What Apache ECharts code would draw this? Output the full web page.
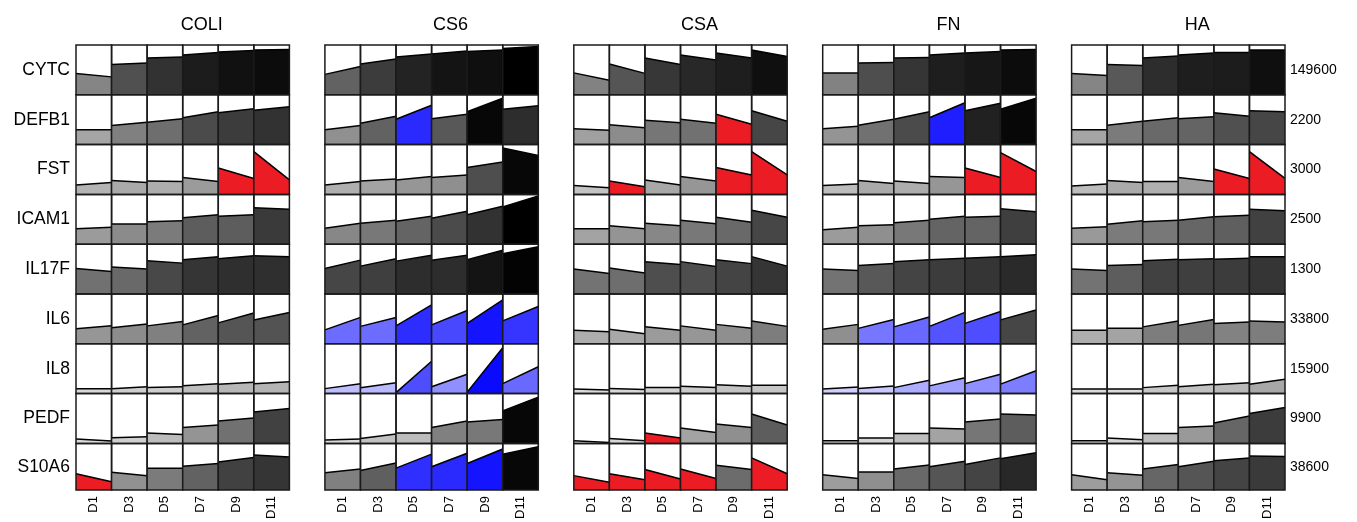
<!DOCTYPE html>
<html>
<head>
<meta charset="utf-8">
<script src="https://cdn.jsdelivr.net/npm/echarts@6.0.0/dist/echarts.min.js"></script>
<style>
  html, body { margin: 0; background: #fff; }
  #chart { width: 1357px; height: 522px; }
</style>
</head>
<body>
<div id="chart"></div>
<script>
const treatments = ['COLI', 'CS6', 'CSA', 'FN', 'HA']
const genes = ['CYTC', 'DEFB1', 'FST', 'ICAM1', 'IL17F', 'IL6', 'IL8', 'PEDF', 'S10A6']
const days = ['D1', 'D3', 'D5', 'D7', 'D9', 'D11']
const rowMax = [149600, 2200, 3000, 2500, 1300, 33800, 15900, 9900, 38600]

// level at the start / end of each interval, as a fraction of the row max
const coliStart = [
  [.43, .61, .74, .80, .86, .90], [.30, .385, .45, .54, .64, .69], [.19, .28, .27, .34, .53, .86],
  [.31, .405, .45, .53, .56, .73], [.51, .54, .67, .69, .71, .77], [.30, .32, .36, .38, .42, .48],
  [.095, .095, .12, .156, .19, .20], [.087, .113, .21, .32, .45, .63], [.35, .38, .47, .51, .60, .75]
]
const coliEnd = [
  [.36, .64, .76, .85, .89, .91], [.30, .45, .52, .66, .72, .76], [.24, .24, .26, .26, .32, .29],
  [.34, .405, .47, .59, .59, .70], [.45, .50, .62, .75, .77, .75], [.36, .40, .45, .57, .62, .63],
  [.095, .136, .136, .20, .23, .24], [.047, .133, .18, .37, .51, .70], [.18, .31, .47, .57, .70, .71]
]
const coliFlags = ['......', '......', '....RR', '......', '......', '......', '......', '......', 'R.....']

const cs6Start = [
  [.41, .62, .76, .82, .87, .93], [.30, .43, .51, .52, .66, .71], [.19, .27, .29, .34, .54, .93],
  [.32, .42, .46, .52, .59, .75], [.51, .56, .66, .68, .69, .81], [.28, .35, .36, .38, .41, .46],
  [.10, .116, .02, .136, .03, .20], [.067, .10, .21, .32, .43, .65], [.37, .42, .47, .50, .57, .77]
]
const cs6End = [
  [.57, .72, .82, .88, .90, .97], [.385, .57, .79, .61, .93, .78], [.26, .31, .36, .39, .65, .78],
  [.42, .48, .56, .66, .76, .97], [.68, .71, .78, .78, .88, .95], [.53, .53, .78, .67, .88, .75],
  [.20, .22, .65, .39, .92, .54], [.087, .19, .21, .45, .48, .93], [.45, .58, .77, .79, .88, .93]
]
const cs6Flags = ['......', '..B...', '......', '......', '......', 'BBBBBB', 'BBBBBB', '......', '..BBB.']

const csaStart = [
  [.44, .62, .74, .80, .84, .90], [.32, .40, .49, .51, .61, .68], [.18, .27, .29, .36, .54, .86],
  [.31, .37, .42, .48, .54, .68], [.50, .52, .65, .65, .69, .75], [.27, .29, .34, .36, .39, .46],
  [.09, .10, .12, .15, .18, .17], [.053, .10, .21, .31, .39, .59], [.31, .35, .44, .45, .53, .69]
]
const csaEnd = [
  [.29, .43, .61, .70, .74, .77], [.29, .34, .44, .43, .41, .47], [.135, .155, .19, .27, .39, .39],
  [.31, .31, .37, .41, .44, .54], [.41, .42, .59, .55, .61, .56], [.24, .20, .27, .27, .31, .35],
  [.07, .08, .12, .12, .15, .17], [.02, .053, .11, .22, .32, .37], [.17, .22, .24, .25, .44, .35]
]
const csaFlags = ['......', '....R.', '.R..RR', '......', '......', '......', '......', '..R...', 'RRRR.R']

const fnStart = [
  [.44, .64, .74, .80, .84, .90], [.32, .39, .51, .54, .68, .71], [.18, .28, .27, .36, .53, .84],
  [.29, .37, .43, .50, .54, .71], [.50, .57, .65, .69, .72, .75], [.29, .31, .34, .35, .41, .48],
  [.09, .10, .12, .155, .20, .19], [.053, .11, .20, .31, .43, .59], [.33, .39, .45, .50, .55, .67]
]
const fnEnd = [
  [.44, .65, .75, .84, .87, .91], [.37, .51, .66, .84, .83, .93], [.21, .22, .22, .34, .34, .46],
  [.34, .39, .48, .56, .56, .65], [.47, .61, .69, .72, .75, .79], [.39, .49, .54, .63, .65, .68],
  [.135, .155, .27, .32, .39, .46], [.053, .11, .20, .29, .49, .57], [.25, .39, .54, .62, .69, .80]
]
const fnFlags = ['......', '...B..', '....RR', '......', '......', '.BBBB.', 'BBBBBB', '......', '......']

const haStart = [
  [.43, .61, .74, .80, .85, .90], [.30, .39, .47, .52, .64, .68], [.17, .28, .26, .34, .51, .86],
  [.32, .40, .45, .48, .55, .70], [.50, .57, .67, .69, .70, .75], [.27, .31, .34, .37, .41, .46],
  [.09, .09, .12, .14, .18, .19], [.053, .11, .20, .32, .41, .60], [.33, .37, .45, .50, .63, .73]
]
const haEnd = [
  [.39, .59, .78, .84, .85, .90], [.30, .47, .54, .56, .57, .66], [.21, .24, .26, .26, .32, .32],
  [.35, .47, .48, .55, .58, .67], [.47, .59, .70, .71, .72, .75], [.27, .31, .46, .49, .44, .44],
  [.09, .09, .17, .19, .22, .29], [.053, .073, .20, .35, .55, .72], [.22, .32, .55, .62, .69, .72]
]
const haFlags = ['......', '......', '....RR', '......', '......', '......', '......', '......', '......']

const startVals = [coliStart, cs6Start, csaStart, fnStart, haStart]
const endVals = [coliEnd, cs6End, csaEnd, fnEnd, haEnd]
const flagRows = [coliFlags, cs6Flags, csaFlags, fnFlags, haFlags]

const chart = echarts.init(document.getElementById('chart'))
const font = 'Liberation Sans'
const panelLeft = 76, panelStep = 248.9, panelW = 213.4
const gridTop = 45, rowH = 49.8

// grey for plain cells, blue / red for flagged ones; darker = higher
const shade = (v, flag) => {
  if (flag === 1) return '#ec1c24'
  const g = Math.max(0, Math.round(250 * (1 - v) - 10))
  return flag === 2 ? `rgb(${g},${g},255)` : `rgb(${g},${g},${g})`
}

const renderCell = (params, api) => {
  const i = api.value(0), s = api.value(1), e = api.value(2), f = api.value(3)
  const bw = api.size([1, 0])[0]
  const cx = api.coord([i, 0])[0]
  const x0 = cx - bw / 2, x1 = cx + bw / 2
  const yb = api.coord([i, 0])[1], yt = api.coord([i, 1])[1]
  const ys = api.coord([i, s])[1], ye = api.coord([i, e])[1]
  return {
    type: 'group',
    children: [
      { type: 'polygon', shape: { points: [[x0, yb], [x0, ys], [x1, ye], [x1, yb]] }, style: { fill: shade(Math.max(s, e), f) } },
      { type: 'line', shape: { x1: x0, y1: ys, x2: x1, y2: ye }, style: { stroke: '#000', lineWidth: 1.5 } },
      { type: 'rect', shape: { x: x0, y: yt, width: bw, height: yb - yt }, style: { fill: 'none', stroke: '#1a1a1a', lineWidth: 1.5 } }
    ]
  }
}

const grids = [], xAxes = [], yAxes = [], series = []
treatments.forEach((t, p) => {
  genes.forEach((g, r) => {
    const idx = grids.length
    grids.push({ left: panelLeft + p * panelStep, top: gridTop + r * rowH, width: panelW, height: rowH })
    xAxes.push({
      gridIndex: idx, type: 'category', data: days,
      axisLine: { show: false }, axisTick: { show: false }, splitLine: { show: false },
      axisLabel: { show: r === genes.length - 1, rotate: 90, margin: 6, color: '#000', fontFamily: font, fontSize: 13 }
    })
    const edge = p === 0 || p === treatments.length - 1
    yAxes.push({
      gridIndex: idx, type: 'value', min: 0, max: 1,
      position: p === treatments.length - 1 ? 'right' : 'left',
      axisLine: { show: false }, axisTick: { show: false }, axisLabel: { show: false }, splitLine: { show: false },
      name: edge ? (p === 0 ? g : String(rowMax[r])) : '',
      nameLocation: 'middle', nameRotate: 0,
      nameGap: p === 0 ? 6 : 5,
      nameTextStyle: { color: '#000', fontFamily: font, fontSize: p === 0 ? 17.5 : 14 }
    })
    const fl = flagRows[p][r]
    series.push({
      type: 'custom', xAxisIndex: idx, yAxisIndex: idx, silent: true,
      encode: { x: 0, y: [1, 2] },
      data: days.map((d, i) => [i, startVals[p][r][i], endVals[p][r][i], fl[i] === 'R' ? 1 : fl[i] === 'B' ? 2 : 0]),
      renderItem: renderCell
    })
  })
})

chart.setOption({
  animation: false,
  backgroundColor: '#fff',
  title: treatments.map((t, p) => ({
    text: t, left: panelLeft + p * panelStep + panelW / 2 + 14, top: 11, textAlign: 'center',
    textStyle: { color: '#000', fontFamily: font, fontSize: 18, fontWeight: 'normal' }
  })),
  grid: grids,
  xAxis: xAxes,
  yAxis: yAxes,
  series: series
})
</script>
</body>
</html>
